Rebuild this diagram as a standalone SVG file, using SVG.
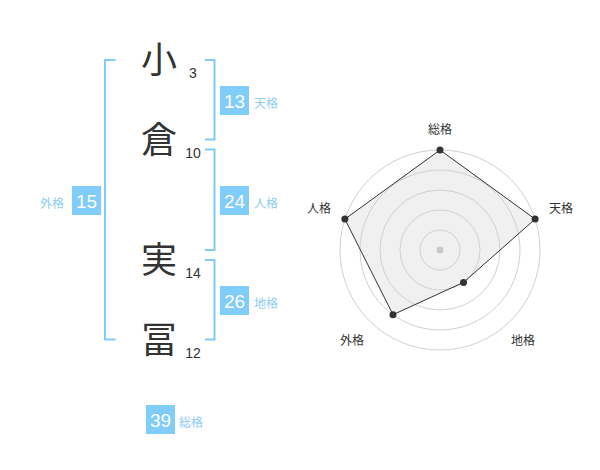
<svg xmlns="http://www.w3.org/2000/svg" width="600" height="470" viewBox="0 0 600 470">
<style>
.ch{font-family:"Noto Sans CJK JP","Noto Sans",sans-serif;font-size:36px;fill:#333;text-anchor:middle}
.num{font-family:"Liberation Sans",Arial,sans-serif;font-size:14px;fill:#333;text-anchor:middle}
.br{fill:none;stroke:#80CCFA;stroke-width:2}
.box{fill:#80CCFA}
.bn{font-family:"Liberation Sans",Arial,sans-serif;font-size:19px;fill:#fff;text-anchor:middle}
.bl{font-family:"Noto Sans CJK JP",sans-serif;font-size:12px;fill:#8ECDF2}
.ring{fill:none;stroke:#d0d0d0;stroke-width:1}
.rl{font-family:"Noto Sans CJK JP",sans-serif;font-size:12px;fill:#333;text-anchor:middle}
.pt{fill:#333}
</style>
<rect width="600" height="470" fill="#fff"/>
<g id="connectors">
<path class="br" d="M115.5,60 H105 V339.5 H115.5"/>
<path class="br" d="M205,60 H214.5 V139.5 H205"/>
<path class="br" d="M205,149.5 H214.5 V250 H205"/>
<path class="br" d="M205,260 H214.5 V339.5 H205"/>
</g>
<g id="char-1"><text class="ch" x="159" y="73">小</text><text class="num" x="193" y="78">3</text></g>
<g id="char-2"><text class="ch" x="159" y="153">倉</text><text class="num" x="193" y="158">10</text></g>
<g id="char-3"><text class="ch" x="159" y="273">実</text><text class="num" x="193" y="278">14</text></g>
<g id="char-4"><text class="ch" x="159" y="353">冨</text><text class="num" x="193" y="358">12</text></g>
<g id="tenkaku"><rect class="box" x="220" y="86" width="29" height="29"/><text class="bn" x="234.5" y="107.5">13</text><text class="bl" x="254" y="108">天格</text></g>
<g id="jinkaku"><rect class="box" x="220" y="186" width="29" height="29"/><text class="bn" x="234.5" y="207.5">24</text><text class="bl" x="254" y="208">人格</text></g>
<g id="chikaku"><rect class="box" x="220" y="286" width="29" height="29"/><text class="bn" x="234.5" y="307.5">26</text><text class="bl" x="254" y="308">地格</text></g>
<g id="gaikaku"><rect class="box" x="72" y="186" width="29" height="29"/><text class="bn" x="86.5" y="207.5">15</text><text class="bl" x="40" y="208">外格</text></g>
<g id="soukaku"><rect class="box" x="146" y="405" width="29" height="29"/><text class="bn" x="160.5" y="426.5">39</text><text class="bl" x="179" y="427">総格</text></g>
<g id="radar">
<polygon points="440,150 535.1,219.1 463.5,282.4 393,314.7 344.9,219.1" fill="#f0f0f0" stroke="none"/>
<circle class="ring" cx="440" cy="250" r="20"/>
<circle class="ring" cx="440" cy="250" r="40"/>
<circle class="ring" cx="440" cy="250" r="60"/>
<circle class="ring" cx="440" cy="250" r="80"/>
<circle class="ring" cx="440" cy="250" r="100"/>
<circle cx="440" cy="250" r="3.5" fill="#c8c8c8"/>
<polygon points="440,150 535.1,219.1 463.5,282.4 393,314.7 344.9,219.1" fill="none" stroke="#333" stroke-width="1"/>
<circle class="pt" cx="440" cy="150" r="3.5"/>
<circle class="pt" cx="535.1" cy="219.1" r="3.5"/>
<circle class="pt" cx="463.5" cy="282.4" r="3.5"/>
<circle class="pt" cx="393" cy="314.7" r="3.5"/>
<circle class="pt" cx="344.9" cy="219.1" r="3.5"/>
<text class="rl" x="440" y="134">総格</text>
<text class="rl" x="561" y="213">天格</text>
<text class="rl" x="523" y="345">地格</text>
<text class="rl" x="352" y="345">外格</text>
<text class="rl" x="319" y="213">人格</text>
</g>
</svg>
